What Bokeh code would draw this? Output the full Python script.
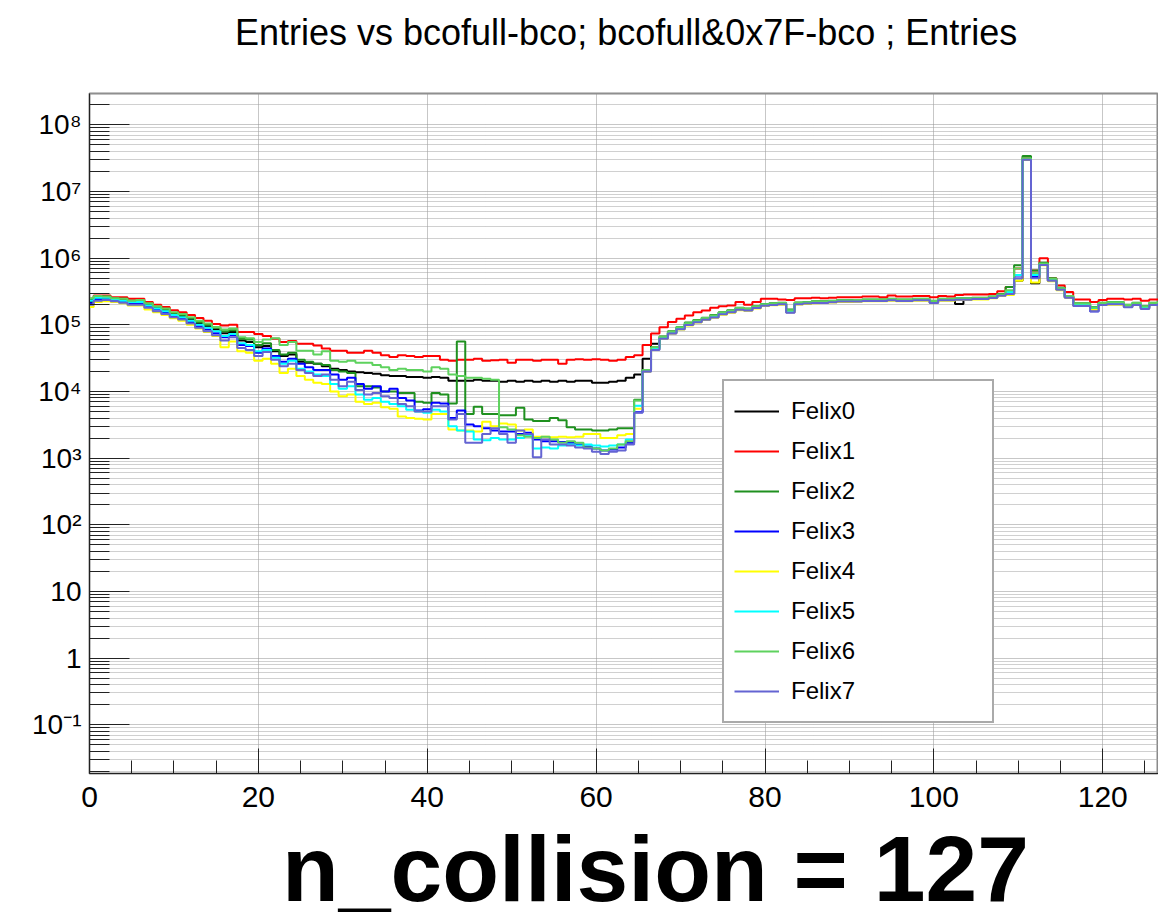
import html
from bokeh.plotting import figure
from bokeh.models import Range1d, FixedTicker, Legend, LegendItem, Div
from bokeh.layouts import column
from bokeh.embed import file_html
from bokeh.resources import INLINE

# ---------------- data ----------------
bins = list(range(128))

felix0 = [2.2e5, 2.5e5, 2.5e5, 2.4e5, 2.35e5, 2.2e5, 2.2e5, 1.95e5, 1.8e5, 1.6e5,
          1.45e5, 1.35e5, 1.2e5, 1.05e5, 9.5e4, 8.5e4, 7.5e4, 7.8e4, 5.8e4, 5.5e4,
          4.6e4, 4.8e4, 4.0e4, 3.4e4, 3.6e4, 2.8e4, 2.7e4, 2.6e4, 2.4e4, 2.2e4,
          2.1e4, 2.0e4, 1.95e4, 1.9e4, 1.85e4, 1.75e4, 1.7e4, 1.7e4, 1.65e4, 1.65e4,
          1.6e4, 1.65e4, 1.6e4, 1.45e4, 1.45e4, 1.45e4, 1.5e4, 1.45e4, 1.45e4, 1.4e4,
          1.45e4, 1.4e4, 1.45e4, 1.4e4, 1.45e4, 1.4e4, 1.45e4, 1.4e4, 1.45e4, 1.45e4,
          1.35e4, 1.35e4, 1.4e4, 1.45e4, 1.6e4, 1.8e4, 3.1e4, 5.2e4, 6.4e4, 7.6e4,
          8.8e4, 1.02e5, 1.12e5, 1.22e5, 1.33e5, 1.47e5, 1.57e5, 1.72e5, 1.68e5, 1.82e5,
          1.98e5, 2.02e5, 2.06e5, 1.6e5, 2.08e5, 2.12e5, 2.16e5, 2.18e5, 2.22e5, 2.26e5,
          2.26e5, 2.28e5, 2.3e5, 2.32e5, 2.3e5, 2.35e5, 2.3e5, 2.3e5, 2.35e5, 2.35e5,
          2.2e5, 2.35e5, 2.35e5, 2.05e5, 2.4e5, 2.45e5, 2.45e5, 2.55e5, 2.75e5, 2.9e5,
          4.6e5, 3.0e7, 4.2e5, 8.0e5, 4.6e5, 3.4e5, 2.6e5, 2.0e5, 2.0e5, 1.75e5,
          2.05e5, 2.1e5, 2.1e5, 1.9e5, 2.05e5, 1.8e5, 2.05e5, 2.1e5]

felix1 = [2.45e5, 2.75e5, 2.75e5, 2.6e5, 2.6e5, 2.45e5, 2.45e5, 2.2e5, 2.0e5, 1.85e5,
          1.65e5, 1.55e5, 1.4e5, 1.27e5, 1.15e5, 1.03e5, 9.8e4, 1.0e5, 7.8e4, 7.8e4,
          7.3e4, 6.8e4, 6.2e4, 5.5e4, 5.7e4, 5.2e4, 5.2e4, 4.9e4, 4.4e4, 4.1e4,
          4.1e4, 3.8e4, 3.8e4, 4.1e4, 3.8e4, 3.5e4, 3.3e4, 3.5e4, 3.4e4, 3.3e4,
          3.4e4, 3.4e4, 3.0e4, 2.9e4, 3.0e4, 3.0e4, 3.1e4, 2.9e4, 2.95e4, 3.0e4,
          2.7e4, 3.0e4, 3.0e4, 2.9e4, 3.0e4, 3.0e4, 2.6e4, 3.0e4, 3.05e4, 3.0e4,
          3.05e4, 3.0e4, 2.9e4, 3.0e4, 3.3e4, 3.5e4, 5.0e4, 7.4e4, 9.2e4, 1.1e5,
          1.23e5, 1.38e5, 1.55e5, 1.64e5, 1.8e5, 1.9e5, 1.95e5, 2.2e5, 2.0e5, 2.2e5,
          2.45e5, 2.45e5, 2.4e5, 2.35e5, 2.5e5, 2.5e5, 2.55e5, 2.5e5, 2.55e5, 2.6e5,
          2.6e5, 2.6e5, 2.65e5, 2.65e5, 2.6e5, 2.75e5, 2.65e5, 2.65e5, 2.7e5, 2.7e5,
          2.6e5, 2.7e5, 2.65e5, 2.8e5, 2.85e5, 2.85e5, 2.85e5, 2.9e5, 3.2e5, 3.7e5,
          7.0e5, 3.2e7, 6.5e5, 1.0e6, 5.0e5, 3.9e5, 3.1e5, 2.4e5, 2.4e5, 2.2e5,
          2.35e5, 2.45e5, 2.45e5, 2.4e5, 2.45e5, 2.3e5, 2.4e5, 2.4e5]

felix2 = [2.4e5, 2.65e5, 2.65e5, 2.5e5, 2.45e5, 2.3e5, 2.3e5, 2.05e5, 1.85e5, 1.7e5,
          1.5e5, 1.4e5, 1.25e5, 1.1e5, 1.0e5, 9.0e4, 8.0e4, 8.3e4, 6.2e4, 6.0e4,
          5.0e4, 5.3e4, 4.2e4, 3.6e4, 3.8e4, 3.0e4, 2.8e4, 2.6e4, 2.5e4, 2.1e4,
          2.0e4, 1.9e4, 1.2e4, 1.2e4, 1.15e4, 1.0e4, 1.0e4, 9.5e3, 9.5e3, 7.0e3,
          6.8e3, 9.5e3, 9.0e3, 6.6e3, 5.6e4, 4.6e3, 5.9e3, 4.6e3, 4.6e3, 4.4e3,
          4.4e3, 5.7e3, 3.8e3, 3.6e3, 3.6e3, 4.0e3, 3.7e3, 2.9e3, 2.7e3, 2.7e3,
          2.6e3, 2.6e3, 2.7e3, 2.8e3, 2.8e3, 7.5e3, 2.1e4, 4.6e4, 6.7e4, 8.0e4,
          9.3e4, 1.08e5, 1.18e5, 1.28e5, 1.4e5, 1.55e5, 1.65e5, 1.8e5, 1.75e5, 1.9e5,
          2.06e5, 2.1e5, 2.15e5, 1.7e5, 2.16e5, 2.2e5, 2.25e5, 2.25e5, 2.3e5, 2.35e5,
          2.35e5, 2.36e5, 2.4e5, 2.4e5, 2.4e5, 2.45e5, 2.4e5, 2.4e5, 2.45e5, 2.45e5,
          2.3e5, 2.45e5, 2.45e5, 2.5e5, 2.5e5, 2.55e5, 2.55e5, 2.65e5, 2.9e5, 3.7e5,
          7.8e5, 3.4e7, 6.5e5, 8.5e5, 5.0e5, 3.6e5, 2.7e5, 2.1e5, 2.1e5, 1.85e5,
          2.15e5, 2.2e5, 2.2e5, 2.0e5, 2.15e5, 1.9e5, 2.15e5, 2.2e5]

felix3 = [2.1e5, 2.4e5, 2.4e5, 2.3e5, 2.2e5, 2.1e5, 2.1e5, 1.85e5, 1.7e5, 1.5e5,
          1.35e5, 1.25e5, 1.1e5, 9.5e4, 8.5e4, 7.5e4, 6.5e4, 7.0e4, 5.0e4, 4.8e4,
          3.8e4, 4.4e4, 3.4e4, 2.8e4, 3.1e4, 2.6e4, 2.3e4, 2.1e4, 2.1e4, 1.8e4,
          1.5e4, 1.6e4, 1.3e4, 1.1e4, 1.2e4, 1.0e4, 1.1e4, 8.0e3, 7.3e3, 5.2e3,
          5.4e3, 6.8e3, 6.6e3, 4.0e3, 5.2e3, 3.2e3, 3.0e3, 2.8e3, 2.6e3, 2.5e3,
          2.5e3, 2.3e3, 2.4e3, 1.9e3, 1.8e3, 1.8e3, 1.75e3, 1.7e3, 1.6e3, 1.5e3,
          1.4e3, 1.3e3, 1.35e3, 1.45e3, 1.7e3, 4.9e3, 2.0e4, 4.3e4, 6.3e4, 7.5e4,
          8.7e4, 1.0e5, 1.1e5, 1.2e5, 1.3e5, 1.45e5, 1.55e5, 1.7e5, 1.65e5, 1.8e5,
          1.95e5, 2.0e5, 2.05e5, 1.55e5, 2.05e5, 2.1e5, 2.15e5, 2.15e5, 2.2e5, 2.25e5,
          2.25e5, 2.25e5, 2.3e5, 2.3e5, 2.3e5, 2.35e5, 2.3e5, 2.3e5, 2.35e5, 2.35e5,
          2.15e5, 2.35e5, 2.35e5, 2.4e5, 2.4e5, 2.45e5, 2.45e5, 2.55e5, 2.75e5, 2.95e5,
          5.5e5, 3.0e7, 5.2e5, 8.0e5, 4.6e5, 3.4e5, 2.6e5, 1.95e5, 1.95e5, 1.6e5,
          2.0e5, 2.05e5, 2.05e5, 1.85e5, 2.0e5, 1.75e5, 2.0e5, 2.05e5]

felix4 = [1.85e5, 2.2e5, 2.25e5, 2.2e5, 2.1e5, 1.95e5, 1.95e5, 1.7e5, 1.55e5, 1.4e5,
          1.25e5, 1.15e5, 1.0e5, 8.8e4, 7.8e4, 6.8e4, 4.6e4, 5.6e4, 4.0e4, 3.8e4,
          2.9e4, 3.1e4, 2.6e4, 1.9e4, 2.2e4, 1.7e4, 1.5e4, 1.35e4, 1.3e4, 1.0e4,
          8.5e3, 9.0e3, 7.0e3, 6.5e3, 6.8e3, 5.8e3, 5.5e3, 4.2e3, 4.0e3, 3.9e3,
          3.8e3, 4.6e3, 4.6e3, 2.7e3, 2.6e3, 2.6e3, 2.5e3, 3.5e3, 3.0e3, 3.3e3,
          3.2e3, 2.6e3, 2.7e3, 2.1e3, 2.1e3, 2.05e3, 2.1e3, 2.05e3, 2.1e3, 2.3e3,
          2.3e3, 2.0e3, 2.0e3, 2.2e3, 2.3e3, 5.5e3, 2.0e4, 4.3e4, 6.2e4, 7.4e4,
          8.5e4, 9.8e4, 1.08e5, 1.18e5, 1.28e5, 1.42e5, 1.52e5, 1.66e5, 1.62e5, 1.76e5,
          1.92e5, 1.96e5, 2.0e5, 1.55e5, 2.02e5, 2.06e5, 2.1e5, 2.12e5, 2.16e5, 2.2e5,
          2.2e5, 2.22e5, 2.25e5, 2.26e5, 2.25e5, 2.3e5, 2.25e5, 2.25e5, 2.3e5, 2.3e5,
          2.15e5, 2.3e5, 2.3e5, 2.35e5, 2.35e5, 2.4e5, 2.4e5, 2.5e5, 2.7e5, 2.8e5,
          4.6e5, 3.0e7, 4.3e5, 7.8e5, 4.5e5, 3.3e5, 2.55e5, 1.95e5, 1.95e5, 1.7e5,
          2.0e5, 2.0e5, 2.0e5, 1.85e5, 2.0e5, 1.75e5, 2.0e5, 2.05e5]

felix5 = [2.3e5, 2.55e5, 2.55e5, 2.4e5, 2.3e5, 2.2e5, 2.2e5, 1.95e5, 1.75e5, 1.6e5,
          1.4e5, 1.3e5, 1.15e5, 1.0e5, 9.0e4, 8.0e4, 6.8e4, 7.3e4, 5.3e4, 5.0e4,
          4.0e4, 4.2e4, 3.2e4, 2.6e4, 2.9e4, 2.2e4, 2.0e4, 1.8e4, 1.7e4, 1.3e4,
          1.1e4, 1.2e4, 9.0e3, 7.5e3, 8.0e3, 7.0e3, 6.5e3, 6.0e3, 5.3e3, 5.0e3,
          4.8e3, 5.3e3, 5.0e3, 3.0e3, 2.6e3, 2.5e3, 1.9e3, 1.85e3, 2.0e3, 1.9e3,
          1.9e3, 2.0e3, 2.2e3, 1.4e3, 1.45e3, 1.4e3, 1.55e3, 1.6e3, 1.55e3, 1.6e3,
          1.55e3, 1.5e3, 1.55e3, 1.6e3, 1.9e3, 6.1e3, 2.05e4, 4.4e4, 6.5e4, 7.7e4,
          9.0e4, 1.04e5, 1.14e5, 1.24e5, 1.35e5, 1.5e5, 1.6e5, 1.75e5, 1.7e5, 1.85e5,
          2.0e5, 2.05e5, 2.1e5, 1.62e5, 2.1e5, 2.15e5, 2.2e5, 2.2e5, 2.25e5, 2.3e5,
          2.3e5, 2.32e5, 2.35e5, 2.35e5, 2.35e5, 2.4e5, 2.35e5, 2.35e5, 2.4e5, 2.4e5,
          2.25e5, 2.4e5, 2.4e5, 2.45e5, 2.45e5, 2.5e5, 2.5e5, 2.6e5, 2.8e5, 3.1e5,
          5.6e5, 3.1e7, 5.6e5, 8.2e5, 4.8e5, 3.5e5, 2.65e5, 2.05e5, 2.05e5, 1.8e5,
          2.1e5, 2.15e5, 2.15e5, 1.95e5, 2.1e5, 1.85e5, 2.1e5, 2.15e5]

felix6 = [2.5e5, 2.7e5, 2.65e5, 2.5e5, 2.45e5, 2.3e5, 2.35e5, 2.1e5, 1.9e5, 1.75e5,
          1.55e5, 1.45e5, 1.3e5, 1.15e5, 1.05e5, 9.3e4, 8.5e4, 8.8e4, 6.5e4, 6.3e4,
          5.5e4, 6.0e4, 6.3e4, 5.0e4, 5.5e4, 4.1e4, 4.1e4, 3.6e4, 4.0e4, 2.9e4,
          2.8e4, 2.9e4, 2.7e4, 2.7e4, 2.5e4, 2.3e4, 2.1e4, 2.2e4, 2.1e4, 2.1e4,
          2.0e4, 2.3e4, 2.2e4, 1.8e4, 1.7e4, 1.6e4, 1.6e4, 1.55e4, 1.5e4, 2.9e3,
          2.7e3, 2.2e3, 2.1e3, 2.0e3, 2.1e3, 1.9e3, 1.7e3, 1.8e3, 1.7e3, 1.45e3,
          1.4e3, 1.3e3, 1.4e3, 1.6e3, 1.8e3, 7.3e3, 2.1e4, 4.6e4, 6.6e4, 7.9e4,
          9.2e4, 1.06e5, 1.16e5, 1.26e5, 1.38e5, 1.53e5, 1.63e5, 1.78e5, 1.73e5, 1.88e5,
          2.04e5, 2.08e5, 2.13e5, 1.66e5, 2.14e5, 2.18e5, 2.23e5, 2.23e5, 2.28e5, 2.33e5,
          2.33e5, 2.35e5, 2.38e5, 2.38e5, 2.38e5, 2.43e5, 2.38e5, 2.38e5, 2.43e5, 2.43e5,
          2.28e5, 2.43e5, 2.43e5, 2.48e5, 2.48e5, 2.53e5, 2.53e5, 2.63e5, 2.85e5, 3.3e5,
          7.0e5, 3.15e7, 6.0e5, 8.3e5, 4.9e5, 3.55e5, 2.7e5, 2.08e5, 2.08e5, 1.82e5,
          2.12e5, 2.18e5, 2.18e5, 1.98e5, 2.12e5, 1.88e5, 2.12e5, 2.18e5]

felix7 = [2.0e5, 2.3e5, 2.35e5, 2.25e5, 2.15e5, 2.0e5, 2.0e5, 1.8e5, 1.6e5, 1.45e5,
          1.3e5, 1.2e5, 1.05e5, 9.0e4, 8.0e4, 7.0e4, 5.8e4, 6.5e4, 4.5e4, 4.2e4,
          3.4e4, 3.9e4, 3.0e4, 2.4e4, 2.6e4, 2.1e4, 1.9e4, 1.7e4, 1.8e4, 1.5e4,
          1.2e4, 1.4e4, 1.05e4, 9.0e3, 9.5e3, 8.5e3, 8.0e3, 6.5e3, 6.0e3, 5.0e3,
          5.0e3, 6.0e3, 6.0e3, 3.8e3, 4.6e3, 1.7e3, 1.7e3, 2.3e3, 2.8e3, 2.3e3,
          1.7e3, 2.6e3, 2.3e3, 1.03e3, 1.9e3, 1.6e3, 1.6e3, 1.55e3, 1.45e3, 1.4e3,
          1.25e3, 1.15e3, 1.25e3, 1.3e3, 1.6e3, 4.8e3, 2.0e4, 4.2e4, 6.2e4, 7.4e4,
          8.6e4, 9.9e4, 1.09e5, 1.19e5, 1.29e5, 1.44e5, 1.54e5, 1.68e5, 1.64e5, 1.78e5,
          1.94e5, 1.98e5, 2.03e5, 1.52e5, 2.03e5, 2.08e5, 2.13e5, 2.13e5, 2.18e5, 2.23e5,
          2.23e5, 2.24e5, 2.28e5, 2.28e5, 2.28e5, 2.33e5, 2.28e5, 2.28e5, 2.33e5, 2.33e5,
          2.12e5, 2.33e5, 2.33e5, 2.38e5, 2.38e5, 2.43e5, 2.43e5, 2.53e5, 2.72e5, 2.9e5,
          5.0e5, 3.0e7, 5.0e5, 7.9e5, 4.6e5, 3.35e5, 2.55e5, 1.92e5, 1.92e5, 1.58e5,
          1.98e5, 2.03e5, 2.03e5, 1.83e5, 1.98e5, 1.72e5, 1.98e5, 2.03e5]

series_names = ["Felix0", "Felix1", "Felix2", "Felix3", "Felix4", "Felix5", "Felix6", "Felix7"]
series_values = [felix0, felix1, felix2, felix3, felix4, felix5, felix6, felix7]
series_colors = ["#000000", "#ff0000", "#1f901f", "#0000ff", "#ffff00", "#00ffff", "#5ed25e", "#6464d2"]

x_major = [0, 20, 40, 60, 80, 100, 120]
x_minor = [5, 10, 15, 25, 30, 35, 45, 50, 55, 65, 70, 75, 85, 90, 95, 105, 110, 115, 125]
y_major = [0.1, 1, 10, 100, 1000, 10000, 100000, 1000000, 10000000, 100000000]
y_minor = [k * 10.0 ** e for e in range(-2, 9) for k in range(2, 10)]
y_labels = {0.1: "10\u207b\u00b9", 1: "1", 10: "10", 100: "10\u00b2", 1000: "10\u00b3",
            10000: "10\u2074", 100000: "10\u2075", 1000000: "10\u2076",
            10000000: "10\u2077", 100000000: "10\u2078"}

title_text = "Entries vs bcofull-bco; bcofull&0x7F-bco ; Entries"
footer_text = "n_collision = 127"

FONT = "Liberation Sans"

# ---------------- title ----------------
header = Div(text=('<div style="font-family: \'Liberation Sans\', Arial, sans-serif; '
                   'font-size: 36px; font-weight: normal; line-height: 66px; '
                   'text-align: left; padding-left: 235px; color: black; '
                   'white-space: nowrap;">' + html.escape(title_text) + '</div>'),
             width=1158, height=68, margin=0)

# ---------------- figure ----------------
p = figure(width=1158, height=770, y_axis_type="log", title_location=None,
           x_range=Range1d(0, 126.6), y_range=Range1d(0.0186, 2.95e8),
           output_backend="svg", toolbar_location=None,
           min_border_left=89, min_border_right=0, min_border_top=25, min_border_bottom=65)
p.outline_line_color = "#8a8a8a"
p.outline_line_width = 2
p.background_fill_color = "white"
p.border_fill_color = "white"

# axes
xa = p.xaxis[0]
xa.ticker = FixedTicker(ticks=x_major, minor_ticks=x_minor)
xa.major_tick_in = 25
xa.major_tick_out = 0
xa.minor_tick_in = 13
xa.minor_tick_out = 0
xa.major_tick_line_color = "#222222"
xa.minor_tick_line_color = "#222222"
xa.axis_line_color = "#222222"
xa.major_label_standoff = 13
xa.major_label_text_font = FONT
xa.major_label_text_font_size = "30px"
xa.major_label_text_color = "black"

ya = p.yaxis[0]
ya.ticker = FixedTicker(ticks=y_major, minor_ticks=y_minor)
ya.major_label_overrides = y_labels
ya.major_tick_in = 40
ya.major_tick_out = 0
ya.minor_tick_in = 20
ya.minor_tick_out = 0
ya.major_tick_line_color = "#222222"
ya.minor_tick_line_color = "#222222"
ya.axis_line_color = "#222222"
ya.major_label_standoff = 8
ya.major_label_text_font = FONT
ya.major_label_text_font_size = "28px"
ya.major_label_text_color = "black"

# grids (dotted, ROOT style)
p.xgrid.grid_line_color = "#8f8f8f"
p.xgrid.grid_line_dash = "1 1"
p.ygrid.grid_line_color = "#8f8f8f"
p.ygrid.grid_line_dash = "1 1"
p.ygrid.minor_grid_line_color = "#a0a0a0"
p.ygrid.minor_grid_line_dash = "1 1"

# histograms
items = []
for name, vals, col in zip(series_names, series_values, series_colors):
    r = p.step(bins, vals, mode="center", line_color=col, line_width=2)
    items.append(LegendItem(label=name, renderers=[r]))

legend = Legend(items=items, location=(633, 50), orientation="vertical",
                padding=10, spacing=0, margin=0,
                glyph_width=45, glyph_height=40, label_height=40, label_width=191,
                label_standoff=12, label_text_font=FONT, label_text_font_size="24px",
                label_text_color="black",
                border_line_color="#555555", border_line_width=2,
                background_fill_color="white", background_fill_alpha=1.0)
p.add_layout(legend)

footer = Div(text=('<div style="font-family: \'Liberation Sans\', Arial, sans-serif; '
                   'font-size: 93px; font-weight: bold; line-height: 62px; '
                   'text-align: left; padding-left: 282px; color: black; '
                   'white-space: nowrap;">' + html.escape(footer_text) + '</div>'),
             width=1158, height=75, margin=0)

layout = column(header, p, footer, spacing=0)

open("out.html", "w").write(file_html(layout, INLINE))
